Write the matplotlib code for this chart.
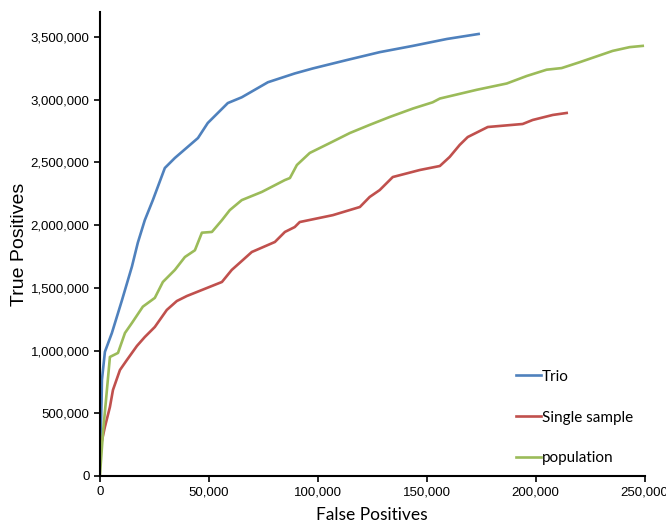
import matplotlib
matplotlib.use('Agg')
import matplotlib.pyplot as plt
from matplotlib.ticker import FuncFormatter

# values (false positives, true positives)
trio_fp = [0, 780, 920, 2300, 5500, 10100, 14700, 17400, 20600, 24300, 29800, 34400,
           45000, 49500, 58700, 65100, 77100, 89400, 97700, 113300, 128400, 143600,
           159200, 173800]
trio_tp = [104000, 606000, 765000, 990000, 1140000, 1400000, 1670000, 1860000, 2040000,
           2200000, 2456000, 2536000, 2695000, 2815000, 2974000, 3020000, 3140000,
           3210000, 3250000, 3317000, 3380000, 3430000, 3485000, 3525000]

single_fp = [0, 500, 2300, 4600, 6000, 9200, 12400, 17000, 20600, 25200, 30700, 35300,
             39900, 46800, 51400, 56000, 60500, 65600, 69700, 80300, 84900, 89400, 91700,
             106900, 119300, 123800, 128400, 134400, 146800, 156000, 160500, 165100,
             168800, 178000, 194000, 198600, 207800, 214200]
single_tp = [200000, 247000, 391000, 550000, 686000, 845000, 925000, 1037000, 1108000,
             1188000, 1324000, 1395000, 1435000, 1483000, 1515000, 1547000, 1643000,
             1722000, 1786000, 1866000, 1946000, 1985000, 2025000, 2080000, 2145000,
             2225000, 2280000, 2384000, 2440000, 2472000, 2544000, 2640000, 2703000,
             2783000, 2807000, 2839000, 2879000, 2895000]

pop_fp = [0, 1400, 2800, 4600, 8300, 11500, 14700, 19700, 25200, 28900, 34400, 39000,
          43600, 46800, 51400, 56000, 59600, 65100, 74300, 84900, 87200, 90400, 96300,
          105500, 114700, 123800, 133000, 143600, 152700, 156000, 173000, 186700, 195900,
          205000, 211900, 220200, 235300, 243100, 249100]
pop_tp = [0, 343000, 606000, 949000, 981000, 1140000, 1220000, 1350000, 1420000, 1547000,
          1643000, 1746000, 1800000, 1940000, 1946000, 2040000, 2120000, 2200000, 2265000,
          2360000, 2376000, 2480000, 2576000, 2655000, 2735000, 2800000, 2863000, 2930000,
          2980000, 3010000, 3080000, 3130000, 3190000, 3240000, 3253000, 3300000, 3390000,
          3420000, 3430000]

x_ticks = [0, 50000, 100000, 150000, 200000, 250000]
y_ticks = [0, 500000, 1000000, 1500000, 2000000, 2500000, 3000000, 3500000]


def thousands(v, pos):
    return f'{int(v):,}'


fig = plt.figure(figsize=(6.66, 5.23), dpi=100)
ax = fig.add_axes([0.150, 0.090, 0.818, 0.887])

ax.plot(trio_fp, trio_tp, color='#4F81BD', lw=1.9, label='Trio')
ax.plot(single_fp, single_tp, color='#C0504D', lw=1.9, label='Single sample')
ax.plot(pop_fp, pop_tp, color='#9BBB59', lw=1.9, label='population')

ax.set_xlim(0, 250000)
ax.set_ylim(0, 3700000)
ax.set_xticks(x_ticks)
ax.set_yticks(y_ticks)
ax.xaxis.set_major_formatter(FuncFormatter(thousands))
ax.yaxis.set_major_formatter(FuncFormatter(thousands))

for lab in ax.get_xticklabels() + ax.get_yticklabels():
    lab.set_fontfamily('Liberation Sans')
    lab.set_fontsize(9.5)
ax.tick_params(direction='out', length=4, width=1.2, colors='black')

ax.spines['top'].set_visible(False)
ax.spines['right'].set_visible(False)
ax.spines['left'].set_linewidth(1.5)
ax.spines['bottom'].set_linewidth(1.5)

ax.set_xlabel('False Positives', fontfamily='Lato', fontsize=12.5, labelpad=6.5)
ax.set_ylabel('True Positives', fontfamily='Liberation Sans', fontsize=14, labelpad=1.5)

# legend sits inside the plot, lower right, no frame
ax.legend(loc='upper left', bbox_to_anchor=(0.753, 0.242), frameon=False,
          prop={'family': 'Lato', 'size': 11}, handlelength=1.6,
          handletextpad=0.1, labelspacing=1.75, borderaxespad=0)

fig.savefig('out.png', dpi=100)
